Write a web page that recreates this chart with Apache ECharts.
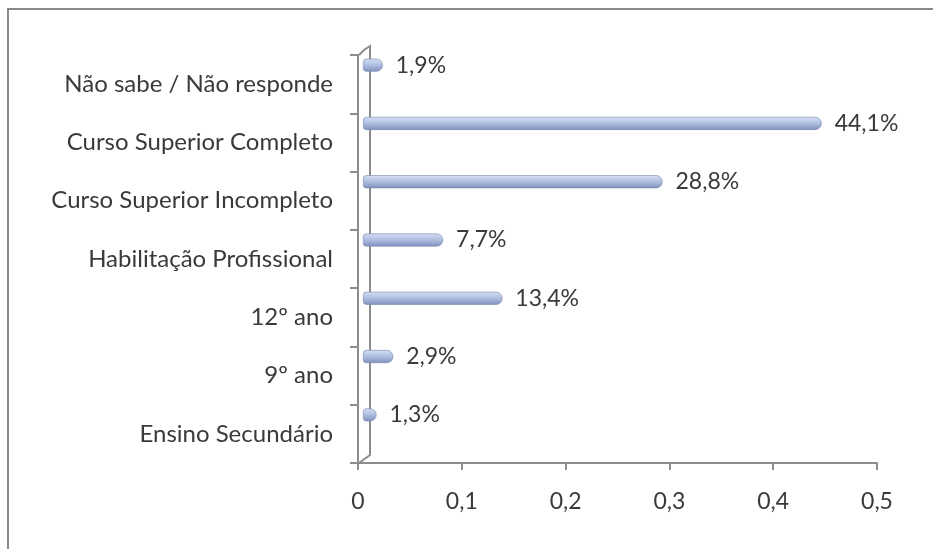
<!DOCTYPE html>
<html>
<head>
<meta charset="utf-8">
<script src="https://cdn.jsdelivr.net/npm/echarts@6/dist/echarts.min.js"></script>
<style>
  html, body { margin: 0; padding: 0; background: #fff; }
  #chart { width: 933px; height: 549px; }
</style>
</head>
<body>
<div id="chart"></div>
<script>
  'use strict';

  // categorias (de baixo para cima, como no eixo)
  var categorias = ['Ensino Secundário', '9º ano', '12º ano', 'Habilitação Profissional',
    'Curso Superior Incompleto', 'Curso Superior Completo', 'Não sabe / Não responde'];
  var valores = [0.013, 0.029, 0.134, 0.077, 0.288, 0.441, 0.019];
  var ticksX = [0, 0.1, 0.2, 0.3, 0.4, 0.5];

  var fonte = 'Lato';
  var corTexto = '#3a3a3a';
  var corEixo = '#8c8c8c';

  var myChart = echarts.init(document.getElementById('chart'));

  var option = {
    animation: false,
    textStyle: { fontFamily: fonte },
    grid: [{
      left: 358, right: 56, top: 55, bottom: 86
    }, {
      left: 363, right: 50, top: 36, bottom: 105
    }],
    xAxis: [{
      gridIndex: 0,
      type: 'value',
      min: ticksX[0],
      max: ticksX[ticksX.length - 1],
      interval: 0.1,
      splitLine: { show: false },
      axisLine: { show: true, lineStyle: { color: corEixo, width: 2 } },
      axisTick: { show: true, length: 7, lineStyle: { color: corEixo, width: 2 } },
      axisLabel: {
        margin: 27, fontSize: 23, color: corTexto, fontFamily: fonte,
        formatter: function(v) { return String(Math.round(v * 10) / 10).replace('.', ','); }
      }
    }, {
      gridIndex: 1,
      type: 'value',
      min: 0, max: 0.5,
      show: false
    }],
    yAxis: [{
      gridIndex: 0,
      type: 'category',
      data: categorias,
      axisLine: { show: true, lineStyle: { color: corEixo, width: 2 } },
      axisTick: { show: true, length: 8, lineStyle: { color: corEixo, width: 2 } },
      axisLabel: { margin: 25, fontSize: 24, color: corTexto, fontFamily: fonte, padding: [8, 0, 0, 0] }
    }, {
      gridIndex: 1,
      type: 'category',
      data: categorias,
      show: false
    }],
    series: [{
      type: 'bar',
      xAxisIndex: 1,
      yAxisIndex: 1,
      data: valores,
      barWidth: 13,
      itemStyle: {
        borderRadius: [3, 6, 6, 3],
        borderColor: '#7384ae',
        borderWidth: 0.6,
        color: new echarts.graphic.LinearGradient(0, 0, 0, 1, [
          { offset: 0, color: '#d6dff2' },
          { offset: 0.45, color: '#b2c1e3' },
          { offset: 1, color: '#8190bb' }
        ])
      },
      label: {
        show: true,
        position: 'right',
        distance: 13,
        fontSize: 23,
        color: corTexto,
        fontFamily: fonte,
        padding: [4, 0, 0, 0],
        formatter: function(p) { return (p.value * 100).toFixed(1).replace('.', ',') + '%'; }
      }
    }],
    graphic: [{
      // moldura (apenas topo e esquerda visíveis)
      type: 'polyline',
      shape: { points: [[8, 549], [8, 9], [933, 9]] },
      style: { stroke: '#8a8a8a', lineWidth: 2, fill: null }
    }, {
      // parede 3D do eixo vertical
      type: 'polyline',
      shape: { points: [[359, 55], [364, 50], [370, 46], [370, 455], [359, 463]] },
      style: { stroke: corEixo, lineWidth: 2, fill: null }
    }]
  };

  myChart.setOption(option);
</script>
</body>
</html>
